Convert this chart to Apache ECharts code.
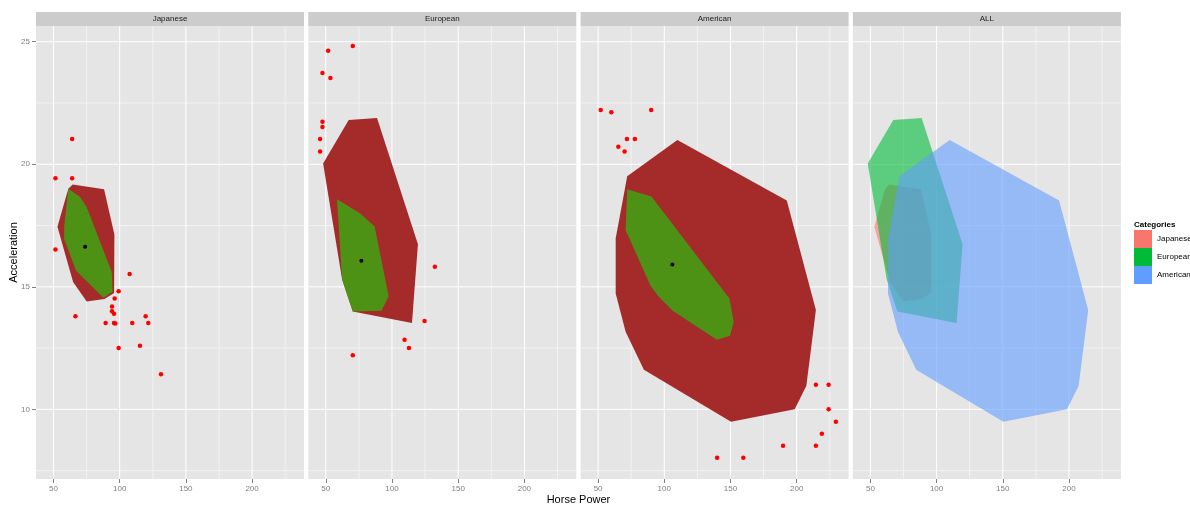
<!DOCTYPE html>
<html>
<head>
<meta charset="utf-8">
<script src="https://cdn.jsdelivr.net/npm/echarts@6/dist/echarts.min.js"></script>
<style>
  html, body { margin: 0; padding: 0; background: #fff; }
  #chart { width: 1190px; height: 506px; }
</style>
</head>
<body>
<div id="chart"></div>
<script>
// facet names
var panels = ['Japanese', 'European', 'American', 'ALL'];

// axis extents + breaks
var hpRange = [36.8, 239.2];
var accRange = [7.16, 25.64];
var majorX = [50, 100, 150, 200];
var minorX = [75, 125, 175, 225];
var majorY = [10, 15, 20, 25];
var minorY = [7.5, 12.5, 17.5, 22.5];

// Japanese
var japLoop = [[53.0, 17.45], [61.2, 19.0], [64.5, 19.17], [88.2, 18.98], [96.0, 17.13], [95.8, 14.75], [88.5, 14.5], [75.1, 14.4], [64.8, 15.2]];
var japBag = [[61.2, 19.0], [70.1, 18.66], [75.1, 18.25], [94.0, 15.6], [94.6, 14.8], [87.7, 14.55], [67.1, 15.66], [58.0, 16.95], [58.2, 17.5]];
var japMedian = [[73.9, 16.63]];
var japOut = [[64.1, 21.03], [51.5, 19.43], [64.1, 19.43], [51.5, 16.52], [107.5, 15.52], [99.2, 14.82], [96.2, 14.52],
  [94.2, 14.2], [94.2, 14.0], [95.7, 13.9], [66.6, 13.8], [119.6, 13.8], [89.4, 13.52], [95.7, 13.52], [96.7, 13.5],
  [109.5, 13.52], [121.6, 13.52], [99.2, 12.5], [115.3, 12.6], [131.2, 11.43]];

// European
var eurLoop = [[48.0, 20.03], [67.3, 21.81], [88.7, 21.89], [119.6, 16.74], [115.1, 13.52], [70.4, 13.99], [62.3, 15.31]];
var eurBag = [[58.5, 18.57], [76.1, 17.99], [86.9, 17.46], [97.5, 14.61], [92.0, 14.02], [70.4, 13.99], [62.3, 15.31]];
var eurMedian = [[76.9, 16.06]];
var eurOut = [[70.4, 24.82], [51.8, 24.63], [47.5, 23.72], [53.5, 23.52], [47.5, 21.73], [47.5, 21.52], [45.7, 21.03],
  [45.7, 20.52], [132.4, 15.82], [124.6, 13.61], [109.5, 12.84], [112.8, 12.5], [70.4, 12.21]];

// American
var amLoop = [[72.0, 19.51], [109.9, 20.99], [192.5, 18.52], [214.5, 14.05], [207.3, 10.96], [198.5, 10.01], [150.4, 9.5],
  [84.6, 11.62], [70.8, 13.17], [63.3, 14.73], [63.3, 16.97]];
var amBag = [[72.0, 18.98], [90.3, 18.68], [149.2, 14.52], [152.4, 13.57], [149.7, 13.0], [139.7, 12.84], [106.6, 14.01],
  [95.8, 14.59], [89.6, 15.04], [70.8, 17.32]];
var amMedian = [[106.1, 15.91]];
var amOut = [[52.0, 22.21], [60.0, 22.12], [90.1, 22.21], [71.8, 21.03], [77.8, 21.03], [65.3, 20.71], [70.0, 20.52],
  [214.5, 11.0], [224.1, 11.0], [224.1, 10.01], [229.6, 9.5], [219.0, 9.01], [189.7, 8.52], [214.5, 8.52],
  [139.9, 8.03], [159.7, 8.03]];

var loopColor = '#A52A2A';
var bagColor = '#4E9215';
var catColors = ['#F8766D', '#00BA38', '#619CFF'];

var chart = echarts.init(document.getElementById('chart'));

var gridLeft = 36, gridW = 268, gridStep = 272.3, gridTop = 26, gridH = 453;
var FONT = 'Liberation Sans';

function vline(api, v, c) {
  var a = api.coord([v, accRange[0]]), b = api.coord([v, accRange[1]]);
  return { type: 'line', shape: { x1: a[0], y1: a[1], x2: b[0], y2: b[1] }, style: { stroke: c, lineWidth: 1 } };
}
function hline(api, v, c) {
  var a = api.coord([hpRange[0], v]), b = api.coord([hpRange[1], v]);
  return { type: 'line', shape: { x1: a[0], y1: a[1], x2: b[0], y2: b[1] }, style: { stroke: c, lineWidth: 1 } };
}

function gridLines(i) {
  return {
    type: 'custom', xAxisIndex: i, yAxisIndex: i, z: 1, silent: true,
    data: [[hpRange[0], accRange[0]]],
    renderItem: function (params, api) {
      var ch = [];
      minorX.forEach(function (v) { ch.push(vline(api, v, '#F2F2F2')); });
      minorY.forEach(function (v) { ch.push(hline(api, v, '#F2F2F2')); });
      majorX.forEach(function (v) { ch.push(vline(api, v, '#FFFFFF')); });
      majorY.forEach(function (v) { ch.push(hline(api, v, '#FFFFFF')); });
      return { type: 'group', children: ch };
    }
  };
}

function polygon(i, name, pts, color, opacity, z) {
  return {
    type: 'custom', name: name, xAxisIndex: i, yAxisIndex: i, z: z, silent: true,
    itemStyle: { color: color },
    data: pts,
    encode: { x: 0, y: 1 },
    renderItem: function (params, api) {
      if (params.dataIndex !== 0) return;
      return {
        type: 'polygon',
        shape: { points: pts.map(function (p) { return api.coord(p); }) },
        style: { fill: color, opacity: opacity }
      };
    }
  };
}

function dots(i, pts, color, size) {
  return {
    type: 'scatter', xAxisIndex: i, yAxisIndex: i, z: 5, silent: true,
    symbolSize: size, itemStyle: { color: color, opacity: 1 }, data: pts
  };
}

var grids = [], xAxes = [], yAxes = [], graphics = [];
panels.forEach(function (p, i) {
  var left = gridLeft + i * gridStep;
  grids.push({ left: left, top: gridTop, width: gridW, height: gridH, show: true, backgroundColor: '#E5E5E5', borderWidth: 0 });
  xAxes.push({
    type: 'value', gridIndex: i, min: hpRange[0], max: hpRange[1],
    axisLine: { show: false }, splitLine: { show: false },
    axisTick: { show: true, length: 4, customValues: majorX, lineStyle: { color: '#7F7F7F' } },
    axisLabel: { customValues: majorX, color: '#7F7F7F', fontSize: 8, fontFamily: FONT, margin: 6 }
  });
  yAxes.push({
    type: 'value', gridIndex: i, min: accRange[0], max: accRange[1],
    axisLine: { show: false }, splitLine: { show: false },
    axisTick: { show: i === 0, length: 4, customValues: majorY, lineStyle: { color: '#7F7F7F' } },
    axisLabel: { show: i === 0, customValues: majorY, color: '#7F7F7F', fontSize: 8, fontFamily: FONT, margin: 6 }
  });
  graphics.push({ type: 'rect', left: left, top: 12, shape: { width: gridW, height: 14 }, style: { fill: '#CCCCCC' } });
  graphics.push({
    type: 'text', x: left + gridW / 2, y: 19,
    style: { text: p, fill: '#1A1A1A', font: '8px "Liberation Sans"', textAlign: 'center', textVerticalAlign: 'middle' }
  });
});

// axis titles
graphics.push({
  type: 'text', x: gridLeft + (3 * gridStep + gridW) / 2, y: 500,
  style: { text: 'Horse Power', fill: '#000', font: '11px "Liberation Sans"', textAlign: 'center', textVerticalAlign: 'middle' }
});
graphics.push({
  type: 'text', x: 14, y: gridTop + gridH / 2, rotation: Math.PI / 2,
  style: { text: 'Acceleration', fill: '#000', font: '11px "Liberation Sans"', textAlign: 'center', textVerticalAlign: 'middle' }
});
graphics.push({
  type: 'text', x: 1134, y: 225,
  style: { text: 'Categories', fill: '#000', font: 'bold 8px "Liberation Sans"', textAlign: 'left', textVerticalAlign: 'middle' }
});

var series = [];
for (var i = 0; i < 4; i++) series.push(gridLines(i));

series.push(polygon(0, 'jap-loop', japLoop, loopColor, 1, 2));
series.push(polygon(0, 'jap-bag', japBag, bagColor, 1, 3));
series.push(dots(0, japOut, '#FF0000', 4.5));
series.push(dots(0, japMedian, '#000000', 4));

series.push(polygon(1, 'eur-loop', eurLoop, loopColor, 1, 2));
series.push(polygon(1, 'eur-bag', eurBag, bagColor, 1, 3));
series.push(dots(1, eurOut, '#FF0000', 4.5));
series.push(dots(1, eurMedian, '#000000', 4));

series.push(polygon(2, 'am-loop', amLoop, loopColor, 1, 2));
series.push(polygon(2, 'am-bag', amBag, bagColor, 1, 3));
series.push(dots(2, amOut, '#FF0000', 4.5));
series.push(dots(2, amMedian, '#000000', 4));

series.push(polygon(3, 'Japanese', japLoop, catColors[0], 0.6, 2));
series.push(polygon(3, 'European', eurLoop, catColors[1], 0.6, 3));
series.push(polygon(3, 'American', amLoop, catColors[2], 0.6, 4));

var option = {
  animation: false,
  backgroundColor: '#FFFFFF',
  textStyle: { fontFamily: FONT },
  grid: grids,
  xAxis: xAxes,
  yAxis: yAxes,
  legend: {
    data: ['Japanese', 'European', 'American'],
    orient: 'vertical', left: 1134, top: 230, padding: 0,
    itemWidth: 18, itemHeight: 18, itemGap: 0, icon: 'rect',
    selectedMode: false,
    textStyle: { fontSize: 8, color: '#000', fontFamily: FONT }
  },
  graphic: graphics,
  series: series
};

chart.setOption(option);
</script>
</body>
</html>
